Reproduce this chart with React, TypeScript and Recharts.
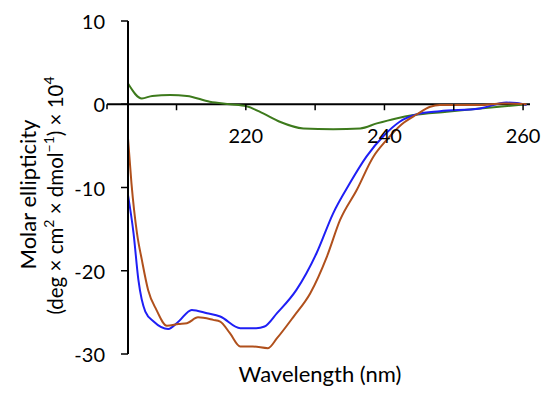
import React from 'react';
import { LineChart, Line, XAxis, YAxis, ReferenceLine } from 'recharts';

// ---- data (wavelength in nm, molar ellipticity ×10^4) ----
const blueWavelength = [203, 203.8, 204.5, 205.5, 206.7, 208.8, 210.3, 212.2, 214.4, 216.3, 219.2, 221.5, 222.7, 224.5, 227.3, 230.2, 232.6, 235.0, 237.4, 240.0, 242.2, 244.7, 248.0, 253.8, 257.6, 259.1, 260.5];
const blueValues = [-10.9, -15.5, -21.1, -24.9, -26.1, -27.0, -26.1, -24.7, -25.1, -25.5, -26.9, -26.9, -26.7, -25.1, -22.3, -17.9, -13.1, -9.5, -6.3, -3.7, -2.1, -1.2, -0.84, -0.5, 0.2, 0.15, -0.1];

const brownWavelength = [203, 203.5, 204.3, 205, 205.9, 207.1, 208.6, 210.3, 211.5, 213.1, 215.3, 216.3, 217.7, 219.2, 221.0, 223.2, 224.5, 226.9, 229.3, 231.7, 233.6, 236.0, 238.4, 240.3, 242.5, 244.7, 246.6, 248.0, 253.8, 257.0, 260.5];
const brownValues = [-4.1, -9.5, -15.5, -18.7, -22.3, -24.7, -26.6, -26.4, -26.3, -25.6, -25.9, -26.1, -27.5, -29.1, -29.1, -29.3, -28.1, -25.5, -22.7, -18.3, -13.9, -10.3, -6.3, -4.3, -2.4, -1.2, -0.3, -0.1, -0.1, 0.1, 0.0];

const greenWavelength = [203, 205, 206.5, 209.1, 211.5, 214.8, 217.7, 220.1, 222.5, 224.9, 228.3, 232.6, 236.5, 238.9, 241.7, 244.2, 249.0, 253.8, 260.5];
const greenValues = [2.5, 0.7, 1.0, 1.1, 1.0, 0.3, 0.0, -0.25, -1.1, -2.1, -2.9, -3.0, -2.9, -2.3, -1.7, -1.3, -0.9, -0.5, 0.0];

const xTicks = [210, 220, 230, 240, 250, 260];
const xTickLabels = [220, 240, 260];
const yTicks = [-30, -20, -10, 0, 10];
const xDomain = [203, 261];
const yDomain = [-30, 10];

const toPoints = (xs: number[], ys: number[]) => xs.map((nm, i) => ({ nm, v: ys[i] }));
const blueData = toPoints(blueWavelength, blueValues);
const brownData = toPoints(brownWavelength, brownValues);
const greenData = toPoints(greenWavelength, greenValues);

// ---- layout ----
const W = 542;
const H = 385;
const X_AXIS_H = 1;
const margin = { top: 13, right: 20, bottom: 38, left: 0 };
const Y_AXIS_W = 120;
const plotH = H - margin.top - margin.bottom - X_AXIS_H;
const zeroY = margin.top + (plotH * (yDomain[1] - 0)) / (yDomain[1] - yDomain[0]);
const axisX = margin.left + Y_AXIS_W;
const FONT = 'Lato, "Open Sans", sans-serif';
const FS = 20;
const TITLE_FS = 22;

const XTick = (props: any) => {
  const { x, payload } = props;
  const v = payload.value;
  return (
    <g>
      <line x1={x} x2={x} y1={zeroY} y2={zeroY + 6} stroke="#000" strokeWidth={1.5} />
      {xTickLabels.includes(v) && (
        <text x={x} y={zeroY + 31} textAnchor="middle" dominantBaseline="central" fontFamily={FONT} fontSize={FS} fill="#000">
          {v}
        </text>
      )}
    </g>
  );
};

const YTick = (props: any) => {
  const { x, y, payload } = props;
  const v = payload.value;
  return (
    <g>
      {v === 0 && (
        <g>
          <line x1={axisX - 21} x2={axisX} y1={y} y2={y} stroke="#000" strokeWidth={2} />
          <line x1={axisX - 21} x2={axisX - 21} y1={y} y2={y + 5} stroke="#000" strokeWidth={1.5} />
        </g>
      )}
      <text x={x} y={y} textAnchor="end" dominantBaseline="central" fontFamily={FONT} fontSize={FS} fill="#000">
        {v}
      </text>
    </g>
  );
};

const AxisTitles = () => {
  const cy = margin.top + plotH / 2;
  const sup = 14;
  return (
    <g>
      <text x={0} y={0} textAnchor="middle" dominantBaseline="central" fontFamily={FONT} fontSize={TITLE_FS} fill="#000" transform={`translate(19, ${cy + 7}) rotate(-90)`}>
        Molar ellipticity
      </text>
      <text x={0} y={0} textAnchor="middle" dominantBaseline="central" fontFamily={FONT} fontSize={20.5} fill="#000" transform={`translate(47, ${cy + 8}) rotate(-90)`}>
        (deg × cm<tspan dy={-7} fontSize={sup}>2</tspan>
        <tspan dy={7}> × dmol</tspan>
        <tspan dy={-7} fontSize={sup}>−1</tspan>
        <tspan dy={7}>) × 10</tspan>
        <tspan dy={-7} fontSize={sup}>4</tspan>
      </text>
      <text x={312} y={365} textAnchor="middle" dominantBaseline="central" fontFamily={FONT} fontSize={TITLE_FS} fill="#000">
        Wavelength (nm)
      </text>
    </g>
  );
};

export default function App() {
  return (
    <div style={{ width: W, height: H, fontFamily: FONT }}>
      <LineChart width={W} height={H} margin={margin}>
        <XAxis
          dataKey="nm"
          type="number"
          domain={xDomain}
          ticks={xTicks}
          allowDataOverflow
          height={X_AXIS_H}
          axisLine={false}
          tickLine={false}
          tick={XTick}
          interval={0}
        />
        <YAxis
          type="number"
          domain={yDomain}
          ticks={yTicks}
          width={Y_AXIS_W}
          interval={0}
          axisLine={{ stroke: '#000', strokeWidth: 2 }}
          tickLine={{ stroke: '#000', strokeWidth: 1.5 }}
          tickSize={7}
          tickMargin={16}
          tick={YTick}
          label={{ content: AxisTitles }}
        />
        <ReferenceLine y={0} stroke="#000" strokeWidth={2} />
        <Line data={greenData} dataKey="v" type="monotone" stroke="#3d7a1c" strokeWidth={2} dot={false} isAnimationActive={false} />
        <Line data={blueData} dataKey="v" type="monotone" stroke="#1f1ff5" strokeWidth={2} dot={false} isAnimationActive={false} />
        <Line data={brownData} dataKey="v" type="monotone" stroke="#b0501c" strokeWidth={2} dot={false} isAnimationActive={false} />
      </LineChart>
    </div>
  );
}
